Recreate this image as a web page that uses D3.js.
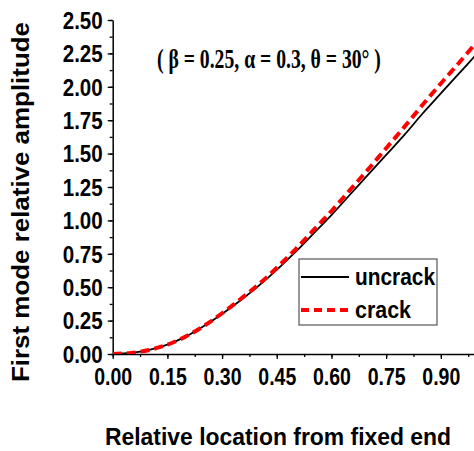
<!DOCTYPE html>
<html>
<head>
<meta charset="utf-8">
<script src="https://cdn.jsdelivr.net/npm/d3@7/dist/d3.min.js"></script>
<style>
  html, body { margin: 0; padding: 0; background: #fff; }
  svg { display: block; }
</style>
</head>
<body>
<div id="chart"></div>
<script>
const xPositions = [0, 0.05, 0.10, 0.15, 0.20, 0.25, 0.30, 0.35, 0.40, 0.45, 0.50,
  0.55, 0.60, 0.65, 0.70, 0.75, 0.80, 0.85, 0.90, 0.95, 1.00];
const uncrackValues = [0, 0.008, 0.03, 0.07, 0.13, 0.21, 0.30, 0.40, 0.51, 0.63, 0.76,
  0.90, 1.04, 1.19, 1.34, 1.49, 1.64, 1.80, 1.95, 2.10, 2.25];
const crackValues = [0, 0.008, 0.03, 0.07, 0.13, 0.21, 0.305, 0.41, 0.52, 0.645, 0.78,
  0.925, 1.07, 1.225, 1.38, 1.54, 1.70, 1.865, 2.025, 2.18, 2.34];
const seriesNames = ['uncrack', 'crack'];
const xTicks = [0, 0.15, 0.30, 0.45, 0.60, 0.75, 0.90];
const yTicks = [0, 0.25, 0.5, 0.75, 1.0, 1.25, 1.5, 1.75, 2.0, 2.25, 2.5];
const xLabel = 'Relative location from fixed end';
const yLabel = 'First mode relative amplitude';
const note = '( \u03B2 = 0.25, \u03B1 = 0.3, \u03B8 = 30\u00B0 )';

const colors = {
  uncrack: '#000000',
  crack: '#ff0000',
  axis: '#000000',
  box: '#555555'
};

const width = 474, height = 451;
const svg = d3.select('#chart').append('svg')
  .attr('width', width)
  .attr('height', height);

const x = d3.scaleLinear().domain([0, 1]).range([112.7, 477.3]);
const y = d3.scaleLinear().domain([0, 2.5]).range([354, 20]);

const bold = 'Liberation Sans, Arial, sans-serif';

// squeeze a text horizontally to a target width, keeping its height
function squeeze(sel, targetWidth) {
  const w = sel.node().getComputedTextLength();
  const base = sel.attr('transform') || '';
  sel.attr('transform', `${base} scale(${targetWidth / w},1)`);
}

// minor ticks first, majors on top
const xMinor = d3.range(0, 1.0001, 0.075);
const yMinor = d3.range(0, 2.5001, 0.125);

svg.append('g')
  .attr('transform', `translate(0,${y(0)})`)
  .call(d3.axisBottom(x).tickValues(xMinor).tickSize(3).tickFormat(''))
  .call(g => g.select('.domain').remove());

svg.append('g')
  .attr('transform', `translate(${x(0)},0)`)
  .call(d3.axisLeft(y).tickValues(yMinor).tickSize(3).tickFormat(''))
  .call(g => g.select('.domain').remove());

const xAxis = svg.append('g')
  .attr('transform', `translate(0,${y(0)})`)
  .call(d3.axisBottom(x).tickValues(xTicks).tickSize(5).tickSizeOuter(0)
    .tickFormat(d3.format('.2f')));

const yAxis = svg.append('g')
  .attr('transform', `translate(${x(0)},0)`)
  .call(d3.axisLeft(y).tickValues(yTicks).tickSize(5).tickSizeOuter(0)
    .tickFormat(d3.format('.2f')));

svg.selectAll('.tick line').attr('stroke', colors.axis).attr('stroke-width', 1.3);
svg.selectAll('.domain').attr('stroke', colors.axis).attr('stroke-width', 1.5);

// tick labels: tall, slightly condensed
xAxis.selectAll('.tick text')
  .attr('y', 0)
  .attr('dy', 0)
  .attr('transform', 'translate(0,31)')
  .attr('textLength', 38)
  .attr('lengthAdjust', 'spacingAndGlyphs')
  .style('font-family', bold)
  .style('font-weight', 'bold')
  .style('font-size', '23px')
  .attr('fill', '#000');

yAxis.selectAll('.tick text')
  .attr('x', -10)
  .attr('dy', '0.36em')
  .attr('textLength', 40)
  .attr('lengthAdjust', 'spacingAndGlyphs')
  .style('font-family', bold)
  .style('font-weight', 'bold')
  .style('font-size', '23px')
  .attr('fill', '#000');

// curves
svg.append('clipPath').attr('id', 'plot-clip')
  .append('rect')
  .attr('x', x(0)).attr('y', y(2.5))
  .attr('width', x(1) - x(0)).attr('height', y(0) - y(2.5));

const line = d3.line()
  .x(d => x(d[0]))
  .y(d => y(d[1]))
  .curve(d3.curveCatmullRom);

const plot = svg.append('g').attr('clip-path', 'url(#plot-clip)');

plot.append('path')
  .datum(xPositions.map((v, i) => [v, uncrackValues[i]]))
  .attr('d', line)
  .attr('fill', 'none')
  .attr('stroke', colors.uncrack)
  .attr('stroke-width', 1.8);

plot.append('path')
  .datum(xPositions.map((v, i) => [v, crackValues[i]]))
  .attr('d', line)
  .attr('fill', 'none')
  .attr('stroke', colors.crack)
  .attr('stroke-width', 4)
  .attr('stroke-dasharray', '9,5');

// axis titles
svg.append('text')
  .attr('x', 278)
  .attr('y', 445)
  .attr('text-anchor', 'middle')
  .attr('textLength', 346)
  .attr('lengthAdjust', 'spacingAndGlyphs')
  .style('font-family', bold)
  .style('font-weight', 'bold')
  .style('font-size', '24px')
  .text(xLabel);

svg.append('text')
  .attr('transform', 'translate(29,202) rotate(-90)')
  .attr('text-anchor', 'middle')
  .attr('textLength', 360)
  .attr('lengthAdjust', 'spacingAndGlyphs')
  .style('font-family', bold)
  .style('font-weight', 'bold')
  .style('font-size', '23px')
  .text(yLabel);

// parameter note
svg.append('text')
  .attr('transform', 'translate(157,68)')
  .style('font-family', 'Liberation Serif, Times New Roman, serif')
  .style('font-size', '28px')
  .style('font-weight', '600')
  .text(note)
  .call(squeeze, 224);

// legend
const legend = svg.append('g').attr('class', 'legend');
legend.append('rect')
  .attr('x', 299).attr('y', 259)
  .attr('width', 138).attr('height', 66)
  .attr('fill', '#fff')
  .attr('stroke', colors.box)
  .attr('stroke-width', 1.2);

const items = legend.selectAll('.legend-item')
  .data(seriesNames)
  .enter()
  .append('g')
  .attr('class', 'legend-item')
  .attr('transform', (d, i) => `translate(0, ${277 + i * 33})`);

items.append('line')
  .attr('x1', 301).attr('x2', 349)
  .attr('y1', 0).attr('y2', 0)
  .attr('stroke', d => colors[d])
  .attr('stroke-width', d => d === 'crack' ? 4 : 2.2)
  .attr('stroke-dasharray', d => d === 'crack' ? '8,5' : null);

items.append('text')
  .attr('x', 355)
  .attr('y', 8)
  .attr('textLength', d => d === 'crack' ? 56 : 80)
  .attr('lengthAdjust', 'spacingAndGlyphs')
  .style('font-family', bold)
  .style('font-weight', 'bold')
  .style('font-size', '23px')
  .text(d => d);
</script>
</body>
</html>
